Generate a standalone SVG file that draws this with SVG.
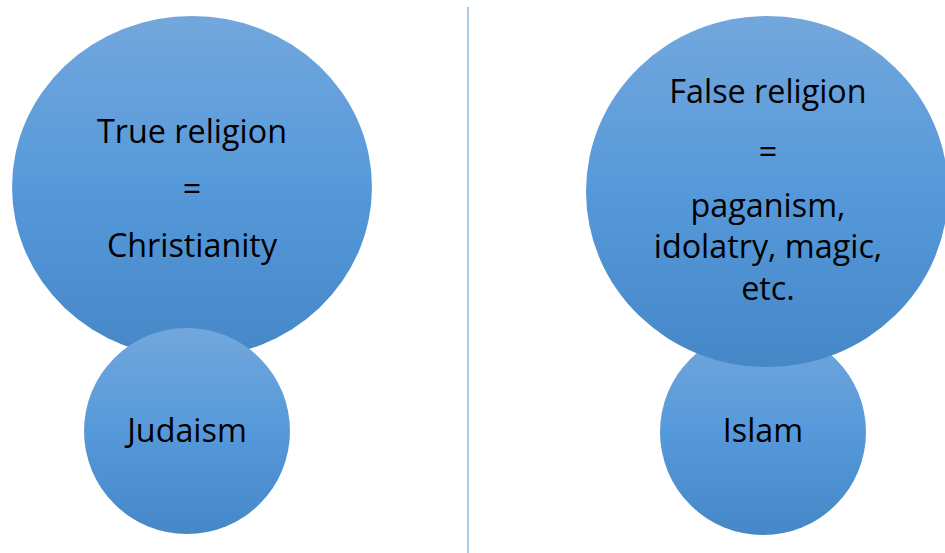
<svg xmlns="http://www.w3.org/2000/svg" width="945" height="553" viewBox="0 0 945 553">
  <defs>
    <linearGradient id="blueFill" x1="0" y1="0" x2="0" y2="1">
      <stop offset="0" stop-color="#72a7dc"/>
      <stop offset="0.5" stop-color="#5699da"/>
      <stop offset="1" stop-color="#4587c7"/>
    </linearGradient>
    <style>
      .bubble { fill: url(#blueFill); }
      .label { font-family: "Open Sans", Lato, "Liberation Sans", sans-serif; font-size: 32.3px; fill: #000000; text-anchor: middle; }
      .divider { stroke: #8fb6df; stroke-width: 1.5; fill: none; }
    </style>
  </defs>

  <rect width="945" height="553" fill="#ffffff"/>

  <g id="connectors">
    <line class="divider" x1="468" y1="7" x2="468" y2="553"/>
  </g>

  <!-- Left side: large bubble with the smaller one drawn in front -->
  <g id="true-religion">
    <ellipse class="bubble" cx="192" cy="187" rx="180" ry="171"/>
    <text class="label" x="192" y="143">True religion</text>
    <text class="label" x="192" y="200">=</text>
    <text class="label" x="192" y="257">Christianity</text>
  </g>
  <g id="judaism">
    <circle class="bubble" cx="187" cy="431" r="103"/>
    <text class="label" x="187" y="442">Judaism</text>
  </g>

  <!-- Right side: smaller bubble sits behind the large one -->
  <g id="islam">
    <circle class="bubble" cx="763" cy="432" r="103"/>
    <text class="label" x="763" y="442">Islam</text>
  </g>
  <g id="false-religion">
    <ellipse class="bubble" cx="767" cy="191.5" rx="181" ry="175.5"/>
    <text class="label" x="768" y="103">False religion</text>
    <text class="label" x="768" y="163">=</text>
    <text class="label" x="768" y="217">paganism,</text>
    <text class="label" x="768" y="258">idolatry, magic,</text>
    <text class="label" x="768" y="300">etc.</text>
  </g>
</svg>
